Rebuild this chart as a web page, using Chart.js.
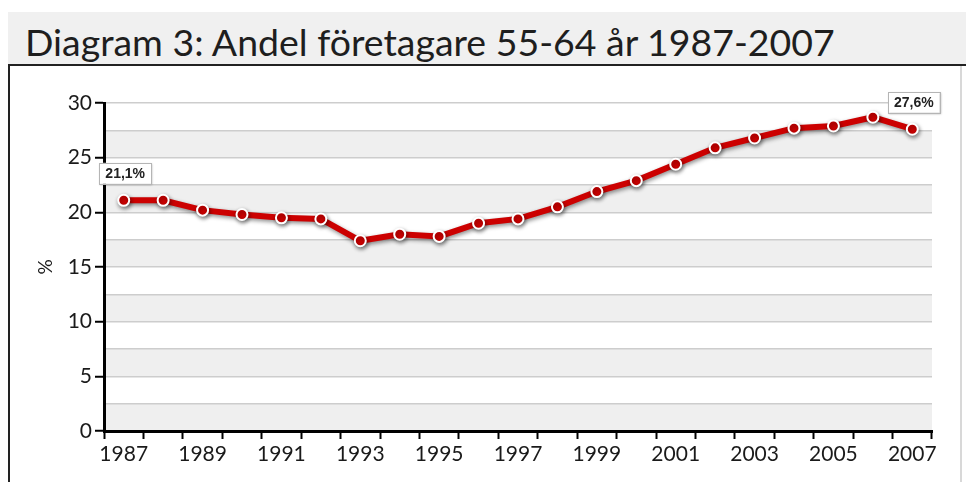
<!DOCTYPE html>
<html>
<head>
<meta charset="utf-8">
<script src="https://cdn.jsdelivr.net/npm/chart.js@4"></script>
<style>
  html, body { margin: 0; padding: 0; background: #fff; }
  body { width: 966px; height: 482px; position: relative; overflow: hidden; }
  #titlebar { position: absolute; left: 8px; top: 12px; width: 958px; height: 52px; background: #f0f0f0; }
  #title { position: absolute; left: 17px; top: 7px; font-family: Lato, sans-serif; font-size: 33px; color: #1e1e1e; white-space: nowrap; }
  #frameTop { position: absolute; left: 8px; top: 64px; width: 958px; height: 2px; background: #222; }
  #frameLeft { position: absolute; left: 8px; top: 64px; width: 2px; height: 418px; background: #222; }
  #frameRight { position: absolute; left: 960px; top: 66px; width: 2px; height: 416px; background: #d8d8d8; }
  #wrap { position: absolute; left: 0; top: 0; width: 966px; height: 482px; }
</style>
</head>
<body>
<div id="titlebar"><div id="title">Diagram 3: Andel företagare 55-64 år 1987-2007</div></div>
<div id="frameTop"></div>
<div id="frameLeft"></div>
<div id="frameRight"></div>
<div id="wrap"><canvas id="c" width="966" height="482"></canvas></div>
<script>
const chartTitle = 'Diagram 3: Andel företagare 55-64 år 1987-2007';
const years = ['1987','1988','1989','1990','1991','1992','1993','1994','1995','1996','1997','1998','1999','2000','2001','2002','2003','2004','2005','2006','2007'];
const shares = [21.1, 21.1, 20.2, 19.8, 19.5, 19.4, 17.4, 18.0, 17.8, 19.0, 19.4, 20.5, 21.9, 22.9, 24.4, 25.9, 26.8, 27.7, 27.9, 28.7, 27.6];
const labeledPoints = [0, 20];
const yAxisTitle = '%';

// fit title width
(function(){
  const el = document.getElementById('title');
  const w = el.getBoundingClientRect().width;
  const target = 810;
  el.style.fontSize = (33 * target / w).toFixed(2) + 'px';
})();

const bandsPlugin = {
  id: 'bands',
  beforeDraw(chart) {
    const {ctx, chartArea, scales} = chart;
    const y = scales.y;
    ctx.save();
    ctx.fillStyle = '#efefef';
    for (let v = 0; v < 30; v += 5) {
      const top = y.getPixelForValue(v + 2.5);
      const bot = y.getPixelForValue(v);
      ctx.fillRect(chartArea.left, top, chartArea.right - chartArea.left, bot - top);
    }
    ctx.restore();
  }
};

const shadowPlugin = {
  id: 'lineShadow',
  beforeDatasetDraw(chart) {
    const ctx = chart.ctx;
    ctx.save();
    ctx.shadowColor = 'rgba(0,0,0,0.45)';
    ctx.shadowBlur = 4;
    ctx.shadowOffsetX = 1;
    ctx.shadowOffsetY = 2;
  },
  afterDatasetDraw(chart) {
    chart.ctx.restore();
  }
};

const labelPlugin = {
  id: 'pointLabels',
  afterDatasetsDraw(chart) {
    const ctx = chart.ctx;
    const meta = chart.getDatasetMeta(0);
    ctx.save();
    ctx.font = 'bold 14px "Liberation Sans", Arial, sans-serif';
    ctx.textAlign = 'center';
    ctx.textBaseline = 'middle';
    labeledPoints.forEach(i => {
      const pt = meta.data[i];
      const txt = shares[i].toFixed(1).replace('.', ',') + '%';
      const tw = ctx.measureText(txt).width;
      const w = tw + 12, h = 21;
      const cx = pt.x + 1.5, cy = pt.y - 27;
      ctx.save();
      ctx.shadowColor = 'rgba(0,0,0,0.3)';
      ctx.shadowBlur = 2;
      ctx.shadowOffsetX = 1;
      ctx.shadowOffsetY = 1;
      ctx.fillStyle = '#fff';
      ctx.fillRect(cx - w/2, cy - h/2, w, h);
      ctx.restore();
      ctx.strokeStyle = '#b5b5b5';
      ctx.lineWidth = 1;
      ctx.strokeRect(Math.round(cx - w/2) + 0.5, Math.round(cy - h/2) + 0.5, Math.round(w), h);
      ctx.fillStyle = '#222';
      ctx.fillText(txt, cx, cy + 0.5);
    });
    ctx.restore();
  }
};

const axisFont = { family: 'Lato, sans-serif', size: 21 };

new Chart(document.getElementById('c'), {
  type: 'line',
  data: {
    labels: years,
    datasets: [{
      data: shares,
      borderColor: '#cc0000',
      borderWidth: 6,
      pointRadius: 5.5,
      pointBackgroundColor: '#d00000',
      pointBorderColor: '#ffffff',
      pointBorderWidth: 2,
      tension: 0,
      clip: false
    }]
  },
  options: {
    responsive: false,
    animation: false,
    events: [],
    layout: { padding: { top: 103, right: 34, bottom: 0, left: 0 } },
    plugins: { legend: { display: false }, tooltip: { enabled: false } },
    scales: {
      x: {
        type: 'category',
        offset: true,
        grid: { offset: true, drawOnChartArea: false, drawTicks: true, tickLength: 8, tickColor: '#000', tickWidth: 2 },
        border: { color: '#000', width: 3 },
        ticks: {
          autoSkip: false, maxRotation: 0, padding: 3, color: '#1a1a1a', font: axisFont,
          callback: function(v, i) { return i % 2 === 0 ? this.getLabelForValue(v) : ''; }
        },
        afterFit: s => { s.height = 51; }
      },
      y: {
        min: 0, max: 30,
        grid: {
          color: '#cdcdcd', lineWidth: 1.5,
          tickLength: 9, tickWidth: 2,
          tickColor: c => (c.tick && c.tick.value % 5 === 0) ? '#000' : 'rgba(0,0,0,0)'
        },
        border: { color: '#000', width: 3 },
        ticks: {
          stepSize: 2.5, autoSkip: false, padding: 3, color: '#1a1a1a', font: axisFont,
          callback: v => (v % 5 === 0 ? v : '')
        },
        title: { display: true, text: yAxisTitle, color: '#1a1a1a', font: { family: 'Lato, sans-serif', size: 19 }, padding: { top: 34, bottom: 0 } },
        afterFit: s => { s.width = 104; }
      }
    }
  },
  plugins: [bandsPlugin, shadowPlugin, labelPlugin]
});
</script>
</body>
</html>
